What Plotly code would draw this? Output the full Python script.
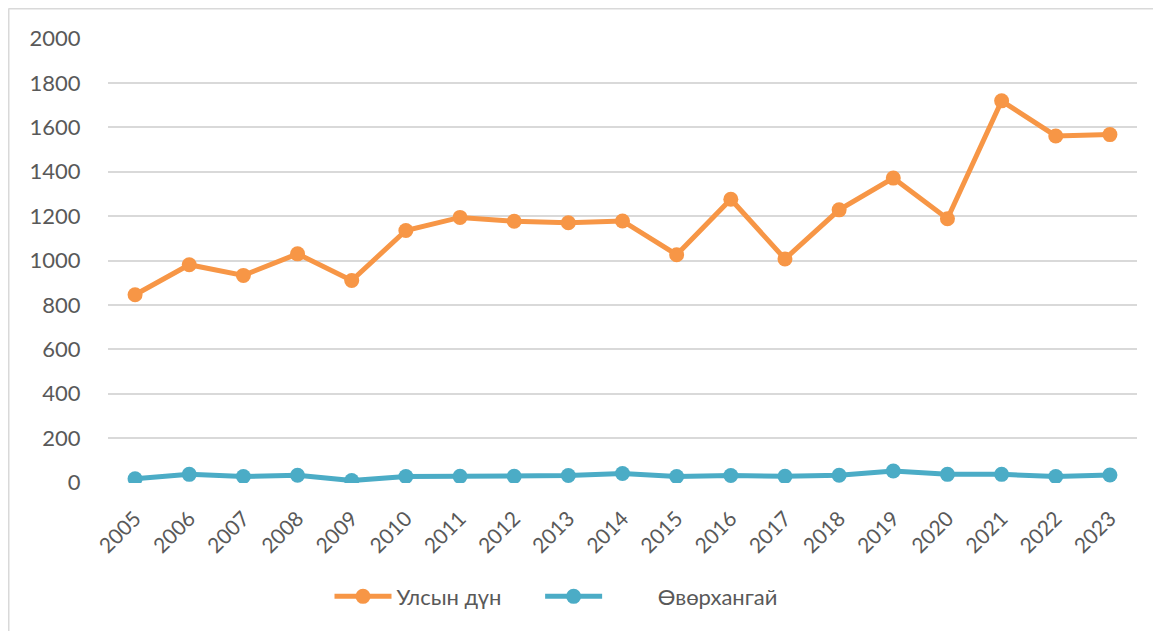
import plotly.graph_objects as go

years = [str(y) for y in range(2005, 2024)]
ulsyn_dun = [846, 981, 933, 1030, 910, 1135, 1194, 1177, 1170, 1178,
             1026, 1276, 1007, 1228, 1371, 1188, 1719, 1561, 1567]
uvurkhangai = [17, 37, 27, 33, 9, 27, 28, 28, 32, 41,
               27, 32, 28, 33, 52, 37, 37, 27, 34]
y_ticks = [0, 200, 400, 600, 800, 1000, 1200, 1400, 1600, 1800, 2000]

# the page body adds an 8px offset, so the figure is a bit smaller
W, H = 1153, 623
L, R, T, B = 100, 24, 30, 148

fig = go.Figure()

fig.add_trace(go.Scatter(x=years, y=ulsyn_dun,
                         mode='lines+markers',
                         name='Улсын дүн' + '\u00a0' * 6,
                         line=dict(color='#F79646', width=5),
                         marker=dict(color='#F79646', size=15),
                         ))

fig.add_trace(go.Scatter(x=years, y=uvurkhangai,
                         mode='lines+markers',
                         name='\u00a0' * 9 + 'Өвөрхангай',
                         line=dict(color='#4BACC6', width=5),
                         marker=dict(color='#4BACC6', size=15),
                         ))

# light frame round the chart (only the left and top edges are visible)
pw = W - L - R
ph = H - T - B
def px_x(v): return (v - L) / pw
def px_y(v): return (H - B - v) / ph

fig.add_shape(type='line', xref='paper', yref='paper',
              x0=px_x(0.5), x1=px_x(W + 10), y0=px_y(0.5), y1=px_y(0.5),
              line=dict(color='#D9D9D9', width=2))
fig.add_shape(type='line', xref='paper', yref='paper',
              x0=px_x(0.5), x1=px_x(0.5), y0=px_y(0.5), y1=px_y(H + 10),
              line=dict(color='#D9D9D9', width=2))

fig.update_xaxes(type='category',
                 range=[-0.5, len(years) - 0.5],
                 tickangle=-45,
                 tickfont=dict(family='Lato', size=21, color='#595959'),
                 showgrid=False,
                 showline=False,
                 ticks='outside',
                 ticklen=14,
                 tickcolor='rgba(0,0,0,0)',
                 )

fig.update_yaxes(range=[-2, 2002],
                 tickvals=y_ticks,
                 tickfont=dict(family='Lato', size=22, color='#595959'),
                 gridcolor='#D9D9D9',
                 gridwidth=1.5,
                 zeroline=False,
                 showline=False,
                 ticks='outside',
                 ticklen=22,
                 tickcolor='rgba(0,0,0,0)',
                 )

fig.update_layout(width=W, height=H,
                  margin=dict(l=L, r=R, t=T, b=B),
                  plot_bgcolor='white',
                  paper_bgcolor='white',
                  showlegend=True,
                  legend=dict(orientation='h',
                              x=px_x(548), xanchor='center',
                              y=-0.208, yanchor='top',
                              itemwidth=57,
                              font=dict(family='Lato', size=22, color='#595959'),
                              ),
                  )

fig.write_html("out.html")
